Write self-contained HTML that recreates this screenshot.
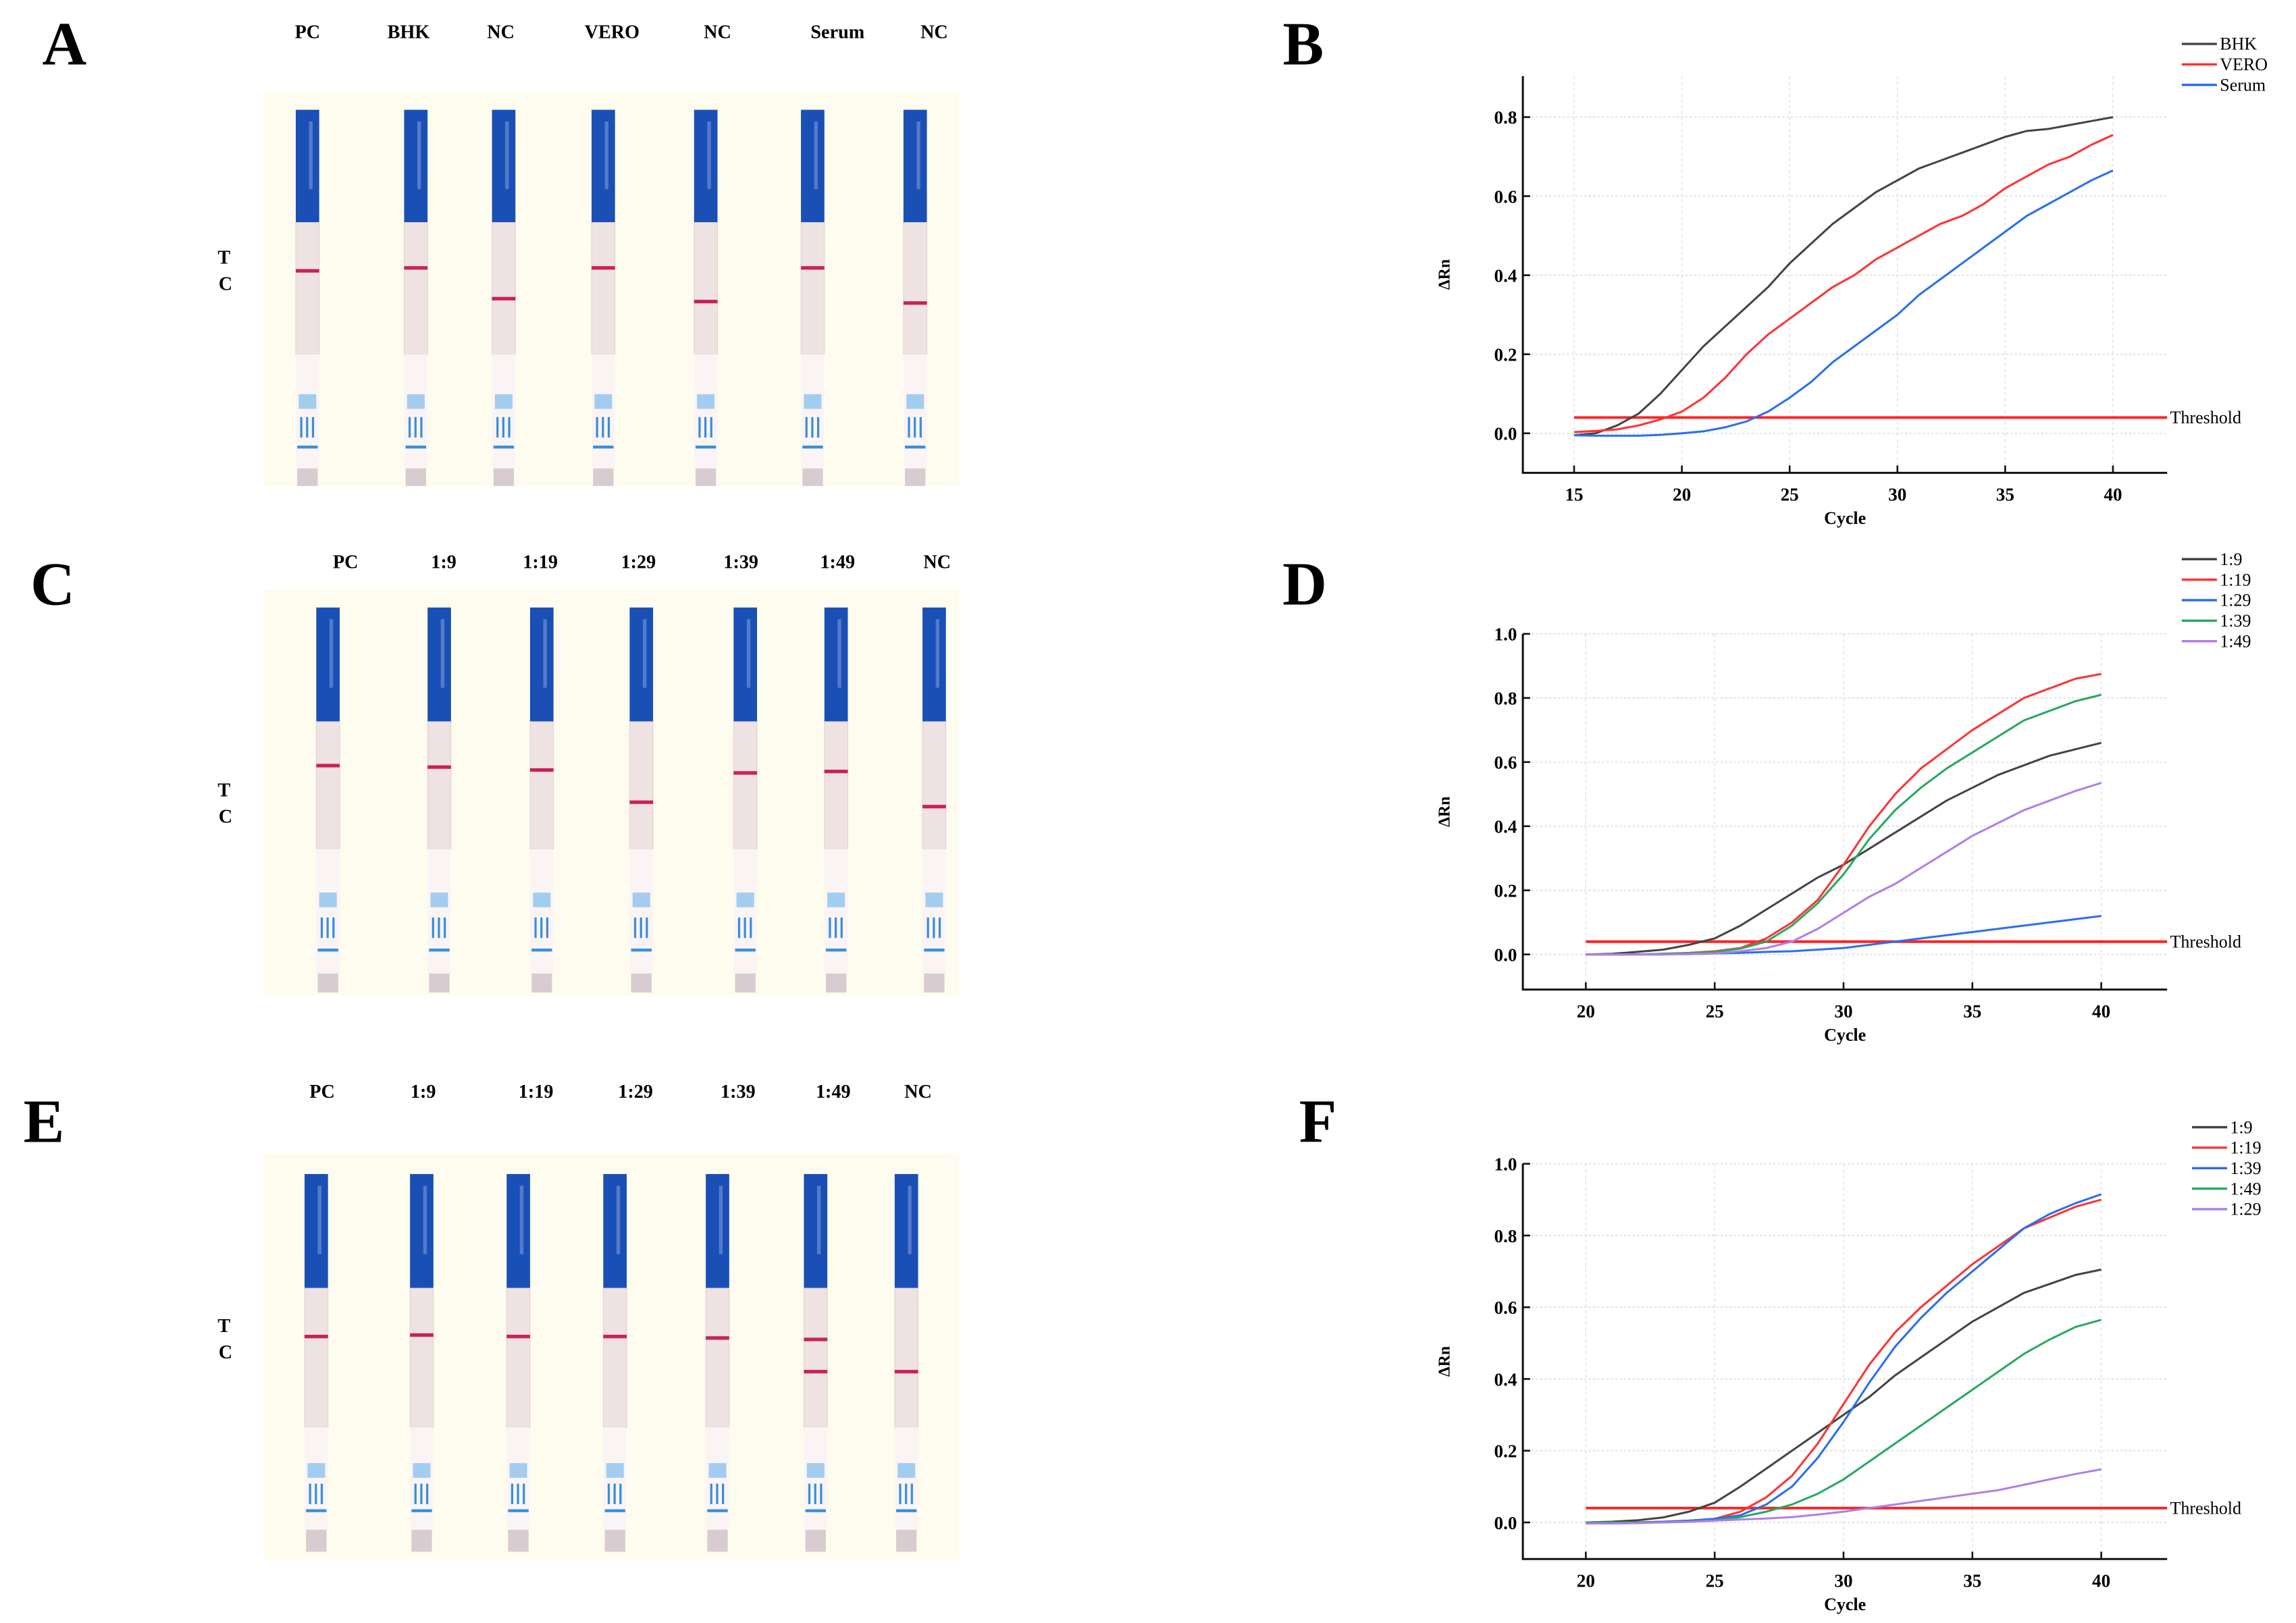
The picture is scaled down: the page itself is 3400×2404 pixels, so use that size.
<!DOCTYPE html>
<html><head><meta charset="utf-8"><style>
html,body{margin:0;padding:0;background:#fff;}
svg{display:block;font-family:"Liberation Serif",serif;}
</style></head><body>
<svg id="fig" width="3400" height="2404" viewBox="0 0 1568 1108.7" preserveAspectRatio="none" xmlns="http://www.w3.org/2000/svg">
<rect x="0" y="0" width="1568" height="1109" fill="#fff"/>
<g id="root"></g>
</svg>
<script>
// ---------- chart data ----------
const cyclesB = [15,16,17,18,19,20,21,22,23,24,25,26,27,28,29,30,31,32,33,34,35,36,37,38,39,40];
const bBHK   = [-0.005,0,0.02,0.05,0.1,0.16,0.22,0.27,0.32,0.37,0.43,0.48,0.53,0.57,0.61,0.64,0.67,0.69,0.71,0.73,0.75,0.765,0.77,0.78,0.79,0.80];
const bVERO  = [0.003,0.006,0.01,0.02,0.035,0.055,0.09,0.14,0.2,0.25,0.29,0.33,0.37,0.40,0.44,0.47,0.50,0.53,0.55,0.58,0.62,0.65,0.68,0.70,0.73,0.755];
const bSerum = [-0.005,-0.006,-0.006,-0.006,-0.004,0,0.005,0.015,0.03,0.055,0.09,0.13,0.18,0.22,0.26,0.30,0.35,0.39,0.43,0.47,0.51,0.55,0.58,0.61,0.64,0.665];
const bXTicks = [15,20,25,30,35,40];
const bYTicks = [0,0.2,0.4,0.6,0.8];

const cyclesDF = [20,21,22,23,24,25,26,27,28,29,30,31,32,33,34,35,36,37,38,39,40];
const d19  = [0,0.002,0.008,0.015,0.03,0.05,0.09,0.14,0.19,0.24,0.28,0.33,0.38,0.43,0.48,0.52,0.56,0.59,0.62,0.64,0.66];
const d119 = [0,0,0,0.002,0.005,0.01,0.02,0.05,0.1,0.17,0.28,0.4,0.5,0.58,0.64,0.7,0.75,0.8,0.83,0.86,0.875];
const d129 = [0,0,0,0,0.001,0.003,0.005,0.008,0.01,0.015,0.02,0.03,0.04,0.05,0.06,0.07,0.08,0.09,0.1,0.11,0.12];
const d139 = [0,0,0,0.002,0.004,0.008,0.018,0.04,0.09,0.16,0.25,0.36,0.45,0.52,0.58,0.63,0.68,0.73,0.76,0.79,0.81];
const d149 = [0,0,0,0,0.001,0.003,0.01,0.02,0.04,0.08,0.13,0.18,0.22,0.27,0.32,0.37,0.41,0.45,0.48,0.51,0.535];

const f19  = [0,0.002,0.006,0.014,0.03,0.055,0.1,0.15,0.2,0.25,0.3,0.35,0.41,0.46,0.51,0.56,0.6,0.64,0.665,0.69,0.705];
const f119 = [0,0,0,0.002,0.005,0.01,0.03,0.07,0.13,0.22,0.33,0.44,0.53,0.6,0.66,0.72,0.77,0.82,0.85,0.88,0.9];
const f139 = [0,0,0,0.002,0.005,0.01,0.02,0.05,0.1,0.18,0.28,0.39,0.49,0.57,0.64,0.7,0.76,0.82,0.86,0.89,0.915];
const f149 = [0,0,0,0,0.002,0.005,0.015,0.03,0.05,0.08,0.12,0.17,0.22,0.27,0.32,0.37,0.42,0.47,0.51,0.545,0.565];
const f129 = [-0.003,-0.003,-0.002,0,0.002,0.005,0.008,0.011,0.015,0.022,0.03,0.04,0.05,0.06,0.07,0.08,0.09,0.105,0.12,0.135,0.148];
const dfXTicks = [20,25,30,35,40];
const dfYTicks = [0,0.2,0.4,0.6,0.8,1.0];
const threshold = 0.04;

const NS = "http://www.w3.org/2000/svg";
const root = document.getElementById('root');
function mk(tag, attrs, parent){
  const e = document.createElementNS(NS, tag);
  for (const k in attrs) e.setAttribute(k, attrs[k]);
  (parent||root).appendChild(e);
  return e;
}
function txt(s, x, y, size, parent, anchor, weight){
  const t = mk('text', {x:x, y:y, 'font-size':size, 'text-anchor':anchor||'middle', 'font-weight':weight||'bold', fill:'#000'}, parent);
  t.textContent = s;
  return t;
}

// ---------- chart drawing ----------
function chart(cfg){
  const g = mk('g', {});
  
  
  const xs = v => cfg.x0px + (v - cfg.x0) / (cfg.x1 - cfg.x0) * (cfg.x1px - cfg.x0px);
  const ys = v => cfg.y0px - v / cfg.ymax * (cfg.y0px - cfg.ymaxpx);
  cfg.xTicks.forEach(t => {
    const l = mk('line', {x1:xs(t), x2:xs(t), y1:cfg.top, y2:cfg.axisY, stroke:'#ddd', 'stroke-width':0.6, 'stroke-dasharray':'2,2'}, g);
    
    
  });
  cfg.yTicks.forEach(t => {
    const l = mk('line', {x1:cfg.axisX, x2:cfg.right, y1:ys(t), y2:ys(t), stroke:'#ddd', 'stroke-width':0.8, 'stroke-dasharray':'1.5,1.5'}, g);
    
    
  });
  const ax = mk('path', {d:`M${cfg.axisX},${cfg.top} L${cfg.axisX},${cfg.axisY} L${cfg.right},${cfg.axisY}`, fill:'none', stroke:'#111', 'stroke-width':1.4}, g);
  
  
  cfg.xTicks.forEach(t => {
    mk('line', {x1:xs(t), x2:xs(t), y1:cfg.axisY, y2:cfg.axisY-5, stroke:'#111', 'stroke-width':1.2}, g);
    const tl = txt(String(t), xs(t), cfg.axisY+19, 12.5, g);
    
    
  });
  cfg.yTicks.forEach(t => {
    mk('line', {x1:cfg.axisX, x2:cfg.axisX+5, y1:ys(t), y2:ys(t), stroke:'#111', 'stroke-width':1.2}, g);
    const tl = txt(t.toFixed(1), cfg.axisX-4, ys(t)+4.5, 12.5, g, 'end');
    
    
  });
  const xt = txt('Cycle', (cfg.axisX+cfg.right)/2, cfg.axisY+35, 12, g);
  
  
  const yt = txt('ΔRn', 0, 0, 11, g);
  yt.setAttribute('transform', `translate(${cfg.axisX-50},${(cfg.top+cfg.axisY)/2}) rotate(-90)`);
  
  
  const th = mk('line', {x1:cfg.x0px, x2:cfg.right, y1:ys(threshold), y2:ys(threshold), stroke:'#f22', 'stroke-width':1.8}, g);
  
  
  const tht = txt('Threshold', cfg.right+2, ys(threshold)+4, 12, g, 'start', 'normal');
  
  
  cfg.series.forEach((s, i) => {
    const d = s.vals.map((v, j) => (j ? 'L' : 'M') + xs(cfg.cycles[j]).toFixed(2) + ',' + ys(v).toFixed(2)).join(' ');
    const p = mk('path', {d:d, fill:'none', stroke:s.color, 'stroke-width':1.4}, g);
    
    
    const ly = cfg.legY + i*14;
    const lg = mk('g', {}, g);
    
    
    mk('line', {x1:cfg.legX, x2:cfg.legX+24, y1:ly, y2:ly, stroke:s.color, 'stroke-width':1.6}, lg);
    txt(s.label, cfg.legX+26, ly+4, 12, lg, 'start', 'normal');
  });
}

chart({name:'chart-b', cycles:cyclesB, x0:15, x1:40, x0px:1075, x1px:1443, ymax:0.8, y0px:296, ymaxpx:80,
  axisX:1040, axisY:323, top:52, right:1480, xTicks:bXTicks, yTicks:bYTicks, legX:1490, legY:30,
  series:[{label:'BHK',vals:bBHK,color:'#444'},{label:'VERO',vals:bVERO,color:'#f33'},{label:'Serum',vals:bSerum,color:'#2a6ff0'}]});
chart({name:'chart-d', cycles:cyclesDF, x0:20, x1:40, x0px:1083, x1px:1435, ymax:1.0, y0px:652, ymaxpx:433,
  axisX:1040, axisY:676, top:433, right:1480, xTicks:dfXTicks, yTicks:dfYTicks, legX:1490, legY:382,
  series:[{label:'1:9',vals:d19,color:'#444'},{label:'1:19',vals:d119,color:'#f33'},{label:'1:29',vals:d129,color:'#2a6ff0'},{label:'1:39',vals:d139,color:'#2aa860'},{label:'1:49',vals:d149,color:'#b07ee8'}]});
chart({name:'chart-f', cycles:cyclesDF, x0:20, x1:40, x0px:1083, x1px:1435, ymax:1.0, y0px:1040, ymaxpx:795,
  axisX:1040, axisY:1065, top:795, right:1480, xTicks:dfXTicks, yTicks:dfYTicks, legX:1497, legY:770,
  series:[{label:'1:9',vals:f19,color:'#444'},{label:'1:19',vals:f119,color:'#f33'},{label:'1:39',vals:f139,color:'#2a6ff0'},{label:'1:49',vals:f149,color:'#2aa860'},{label:'1:29',vals:f129,color:'#b07ee8'}]});

// ---------- strip photos ----------
const panelLetters = [['A',44,44],['B',890,44],['C',36,413],['D',891,413],['E',30,780],['F',900,780]];
panelLetters.forEach(p => {
  const t = txt(p[0], p[1], p[2], 42, root);
  
  
});

function photo(cfg){
  const g = mk('g', {});
  
  
  mk('rect', {x:180, y:cfg.y, width:475, height:cfg.h, fill:'#fefcee'}, g);
  const tl = txt('T', 153, cfg.tY, 13, g);
  
  
  const cl = txt('C', 154, cfg.tY+18, 13, g);
  
  
  cfg.strips.forEach(s => {
    const lab = txt(s.label, s.lx, cfg.labY, 13, root);
    
    
    const sg = mk('g', {}, g);
    
    
    const w = 16, x = s.x - w/2, k = cfg.k;
    mk('rect', {x:x, y:k[0], width:w, height:k[1]-k[0], fill:'#1a4fb5'}, sg);
    mk('rect', {x:x+9, y:k[0]+8, width:2.5, height:(k[1]-k[0])*0.6, fill:'#7b98d8', opacity:0.6}, sg);
    mk('rect', {x:x, y:k[1], width:w, height:k[2]-k[1], fill:'#eee2e2', stroke:'#e2d2d2', 'stroke-width':0.5}, sg);
    mk('rect', {x:x, y:k[2], width:w, height:k[3]-k[2], fill:'#fbf4f4'}, sg);
    mk('rect', {x:x+2, y:k[2]+(k[3]-k[2])*0.35, width:12, height:10, fill:'#a3cdef'}, sg);
    mk('rect', {x:x+3, y:k[2]+(k[3]-k[2])*0.55, width:1.5, height:14, fill:'#3a8edb'}, sg);
    mk('rect', {x:x+7, y:k[2]+(k[3]-k[2])*0.55, width:1.5, height:14, fill:'#3a8edb'}, sg);
    mk('rect', {x:x+11, y:k[2]+(k[3]-k[2])*0.55, width:1.5, height:14, fill:'#3a8edb'}, sg);
    mk('rect', {x:x+1, y:k[2]+(k[3]-k[2])*0.8, width:14, height:2, fill:'#3a8edb'}, sg);
    mk('rect', {x:x+1, y:k[3], width:w-2, height:k[4]-k[3], fill:'#d8ccd0'}, sg);
    s.lines.forEach(ly => mk('rect', {x:x, y:ly-1.2, width:w, height:2.4, fill:'#c8215a'}, sg));
  });
}

photo({name:'strip-photo-a', y:62, h:270, tY:180, labY:26, k:[75,152,242,320,332], strips:[
  {label:'PC',lx:210,x:210,lines:[185]},{label:'BHK',lx:279,x:284,lines:[183]},{label:'NC',lx:342,x:344,lines:[204]},
  {label:'VERO',lx:418,x:412,lines:[183]},{label:'NC',lx:490,x:482,lines:[206]},{label:'Serum',lx:572,x:555,lines:[183]},{label:'NC',lx:638,x:625,lines:[207]}]});
photo({name:'strip-photo-c', y:403, h:277, tY:544, labY:388, k:[415,493,580,665,678], strips:[
  {label:'PC',lx:236,x:224,lines:[523]},{label:'1:9',lx:303,x:300,lines:[524]},{label:'1:19',lx:369,x:370,lines:[526]},
  {label:'1:29',lx:436,x:438,lines:[548]},{label:'1:39',lx:506,x:509,lines:[528]},{label:'1:49',lx:572,x:571,lines:[527]},{label:'NC',lx:640,x:638,lines:[551]}]});
photo({name:'strip-photo-e', y:788, h:277, tY:910, labY:750, k:[802,880,975,1045,1060], strips:[
  {label:'PC',lx:220,x:216,lines:[913]},{label:'1:9',lx:289,x:288,lines:[912]},{label:'1:19',lx:366,x:354,lines:[913]},
  {label:'1:29',lx:434,x:420,lines:[913]},{label:'1:39',lx:504,x:490,lines:[914]},{label:'1:49',lx:569,x:557,lines:[915,937]},{label:'NC',lx:627,x:619,lines:[937]}]});
</script>
</body></html>
